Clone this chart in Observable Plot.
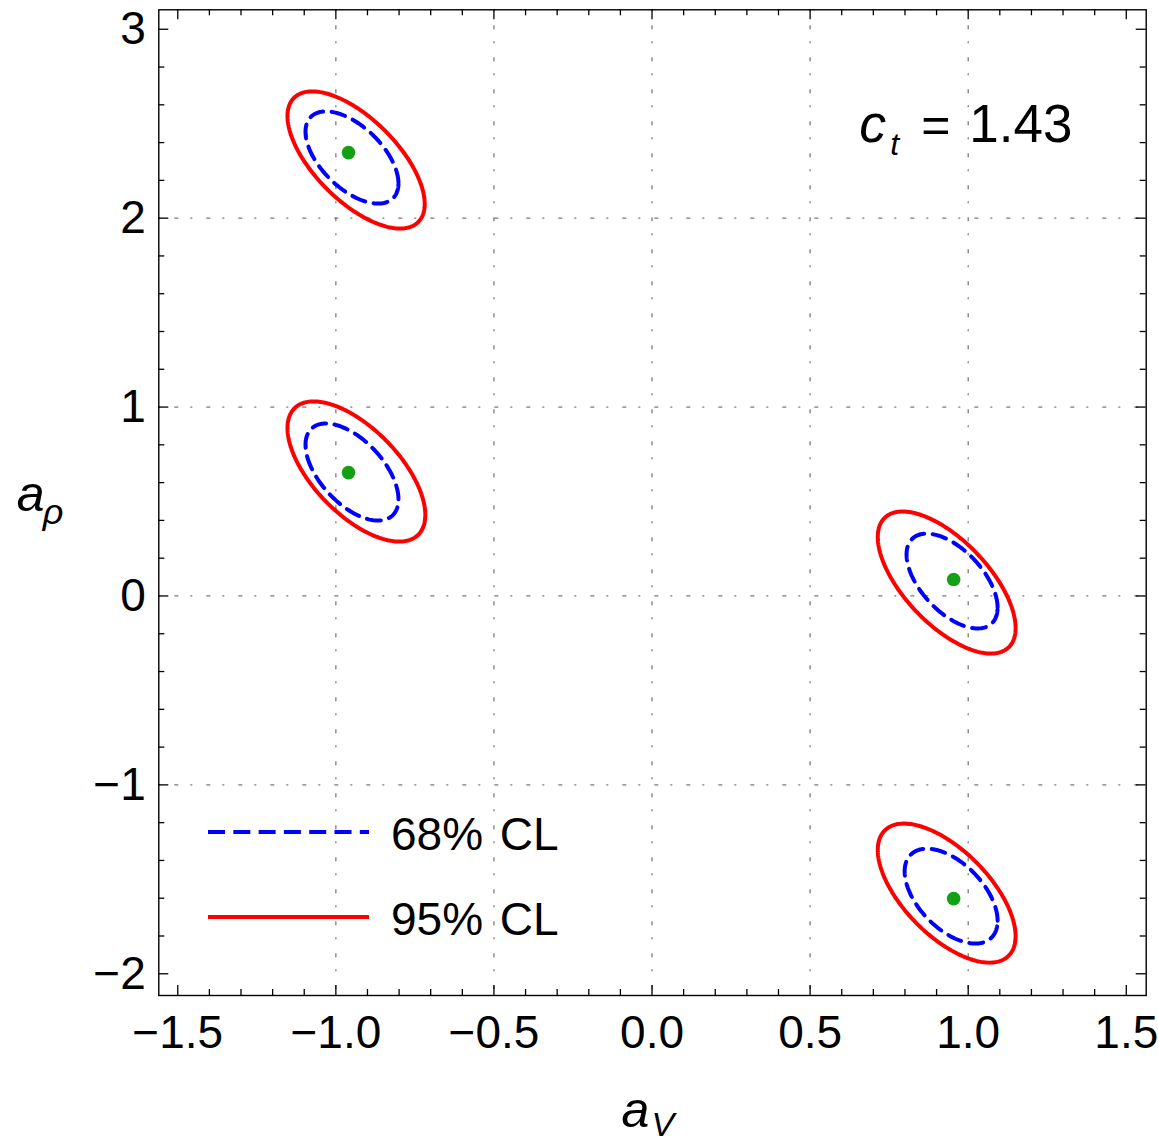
<!DOCTYPE html>
<html>
<head>
<meta charset="utf-8">
<script src="https://cdn.jsdelivr.net/npm/d3@7"></script>
<script src="https://cdn.jsdelivr.net/npm/@observablehq/plot@0.6"></script>
<style>
  html, body { margin: 0; padding: 0; background: #fff; overflow: hidden; }
  #chart svg { display: block; }
</style>
</head>
<body>
<div id="chart"></div>
<script>
// ---- data ----
const regionIds = ["A", "B", "C", "D"];
// best-fit points (green dots)
const bestX = [-0.960, -0.960, 0.954, 0.954];
const bestY = [2.347, 0.653, 0.087, -1.602];
// 95% CL contours (red): centre, half-extent in x, half-extent in y, tilt (correlation)
const cx95 = [-0.936, -0.935, 0.932, 0.932];
const cy95 = [2.308, 0.659, 0.071, -1.573];
const sx95 = [0.217, 0.218, 0.218, 0.218];
const sy95 = [0.363, 0.371, 0.376, 0.368];
const rho95 = [-0.64, -0.62, -0.64, -0.62];
// 68% CL contours (blue dashed)
const cx68 = [-0.949, -0.949, 0.949, 0.946];
const cy68 = [2.321, 0.656, 0.079, -1.589];
const sx68 = [0.147, 0.147, 0.144, 0.147];
const sy68 = [0.244, 0.257, 0.251, 0.251];
const rho68 = [-0.56, -0.56, -0.56, -0.52];
// axis ticks
const xMajor = [-1.5, -1.0, -0.5, 0.0, 0.5, 1.0, 1.5];
const xMinor = [-1.4, -1.3, -1.2, -1.1, -0.9, -0.8, -0.7, -0.6, -0.4, -0.3, -0.2, -0.1,
                0.1, 0.2, 0.3, 0.4, 0.6, 0.7, 0.8, 0.9, 1.1, 1.2, 1.3, 1.4];
const yMajor = [-2, -1, 0, 1, 2, 3];
const yMinor = [-1.8, -1.6, -1.4, -1.2, -0.8, -0.6, -0.4, -0.2, 0.2, 0.4, 0.6, 0.8,
                1.2, 1.4, 1.6, 1.8, 2.2, 2.4, 2.6, 2.8];
const xGrid = [-1.0, -0.5, 0.0, 0.5, 1.0];
const yGrid = [-1, 0, 1, 2];
const legendLabels = ["68% CL", "95% CL"];
const annotation = { name: "c", sub: "t", value: "1.43" };

// ---- contour outlines built from the ellipse parameters ----
function outline(cx, cy, sx, sy, rho, level) {
  const pts = [];
  const N = 240;
  regionIds.forEach((id, i) => {
    const phi = Math.acos(rho[i]);
    for (let k = 0; k <= N; k++) {
      const t = (2 * Math.PI * k) / N;
      pts.push({ id, level, x: cx[i] + sx[i] * Math.cos(t), y: cy[i] + sy[i] * Math.cos(t - phi) });
    }
  });
  return pts;
}
const c95 = outline(cx95, cy95, sx95, sy95, rho95, "95");
const c68 = outline(cx68, cy68, sx68, sy68, rho68, "68");
const best = regionIds.map((id, i) => ({ id, x: bestX[i], y: bestY[i] }));

const W = 1158, H = 1143;
const mL = 158.3, mR = 12.3, mT = 9.3, mB = 148;
const plotW = W - mL - mR, plotH = H - mT - mB;
const font = "'Liberation Sans', Arial, Helvetica, sans-serif";
const gridStyle = { stroke: "#7a7a7a", strokeWidth: 1.3, strokeDasharray: "2,14,4,12" };
const tickStyle = { stroke: "#000", strokeWidth: 1.3 };

const plot = Plot.plot({
  width: W,
  height: H,
  marginLeft: mL, marginRight: mR, marginTop: mT, marginBottom: mB,
  style: { fontFamily: font, background: "#fff", color: "#000" },
  x: { domain: [-1.56, 1.563] },
  y: { domain: [-2.115, 3.103] },
  marks: [
    Plot.ruleX(xGrid, { x: d => d, ...gridStyle }),
    Plot.ruleY(yGrid, { y: d => d, ...gridStyle }),
    Plot.line(c95, { x: "x", y: "y", z: "id", stroke: "#ff0000", strokeWidth: 4 }),
    Plot.line(c68, { x: "x", y: "y", z: "id", stroke: "#0000ff", strokeWidth: 4, strokeDasharray: "14,8.5" }),
    Plot.dot(best, { x: "x", y: "y", r: 6.8, fill: "#14a014", stroke: null }),
    // inward ticks, bottom / top
    Plot.tickX(xMajor, { x: d => d, insetTop: plotH - 10, ...tickStyle }),
    Plot.tickX(xMajor, { x: d => d, insetBottom: plotH - 10, ...tickStyle }),
    Plot.tickX(xMinor, { x: d => d, insetTop: plotH - 6, ...tickStyle }),
    Plot.tickX(xMinor, { x: d => d, insetBottom: plotH - 6, ...tickStyle }),
    // inward ticks, left / right
    Plot.tickY(yMajor, { y: d => d, insetRight: plotW - 10, ...tickStyle }),
    Plot.tickY(yMajor, { y: d => d, insetLeft: plotW - 10, ...tickStyle }),
    Plot.tickY(yMinor, { y: d => d, insetRight: plotW - 6, ...tickStyle }),
    Plot.tickY(yMinor, { y: d => d, insetLeft: plotW - 6, ...tickStyle }),
    Plot.frame({ stroke: "#000", strokeWidth: 1.4 }),
    Plot.axisX(xMajor, { tickSize: 0, tickPadding: 20, tickFormat: d3.format(".1f"), fontSize: 46, label: null }),
    Plot.axisY(yMajor, { tickSize: 0, tickPadding: 13, tickFormat: d3.format("d"), fontSize: 46, label: null }),
    // axis titles
    Plot.text(["a"], { text: d => d, frameAnchor: "bottom", textAnchor: "start", lineAnchor: "bottom",
      dx: -31, dy: 131, fontSize: 50, fontStyle: "italic", fill: "#000" }),
    Plot.text(["V"], { text: d => d, frameAnchor: "bottom", textAnchor: "start", lineAnchor: "bottom",
      dx: -1, dy: 140, fontSize: 34, fontStyle: "italic", fill: "#000" }),
    Plot.text(["a"], { text: d => d, frameAnchor: "left", textAnchor: "start", lineAnchor: "bottom",
      dx: -142, dy: 8, fontSize: 50, fontStyle: "italic", fill: "#000" }),
    Plot.text(["ρ"], { text: d => d, frameAnchor: "left", textAnchor: "start", lineAnchor: "bottom",
      dx: -116, dy: 21, fontSize: 36, fontStyle: "italic", fill: "#000" }),
    // c_t = 1.43 annotation
    Plot.text([annotation.name], { text: d => d, frameAnchor: "top-right", textAnchor: "start", lineAnchor: "bottom",
      dx: -287, dy: 132.4, fontSize: 54, fontStyle: "italic", fill: "#000" }),
    Plot.text([annotation.sub], { text: d => d, frameAnchor: "top-right", textAnchor: "start", lineAnchor: "bottom",
      dx: -256, dy: 145, fontSize: 32, fontStyle: "italic", fill: "#000" }),
    Plot.text(["="], { text: d => d, frameAnchor: "top-right", textAnchor: "start", lineAnchor: "bottom",
      dx: -225, dy: 132.4, fontSize: 50, fill: "#000" }),
    Plot.text([annotation.value], { text: d => d, frameAnchor: "top-right", textAnchor: "start", lineAnchor: "bottom",
      dx: -177, dy: 132.4, fontSize: 53, fill: "#000" })
  ]
});

document.getElementById("chart").appendChild(plot);

// ---- legend inside the frame (lower left) ----
const svg = d3.select(plot);
const lg = svg.append("g").attr("font-family", font).attr("text-anchor", "start");
const legendRows = [
  { label: legendLabels[0], stroke: "#0000ff", dash: "17,8.3", y: 832, base: 850 },
  { label: legendLabels[1], stroke: "#ff0000", dash: null, y: 917, base: 935 }
];
legendRows.forEach(r => {
  lg.append("line").attr("x1", 208).attr("x2", 369).attr("y1", r.y).attr("y2", r.y)
    .attr("stroke", r.stroke).attr("stroke-width", 4.2).attr("stroke-dasharray", r.dash);
  lg.append("text").attr("x", 391).attr("y", r.base).attr("font-size", 46).attr("fill", "#000")
    .attr("text-anchor", "start").attr("word-spacing", 4).text(r.label);
});
</script>
</body>
</html>
